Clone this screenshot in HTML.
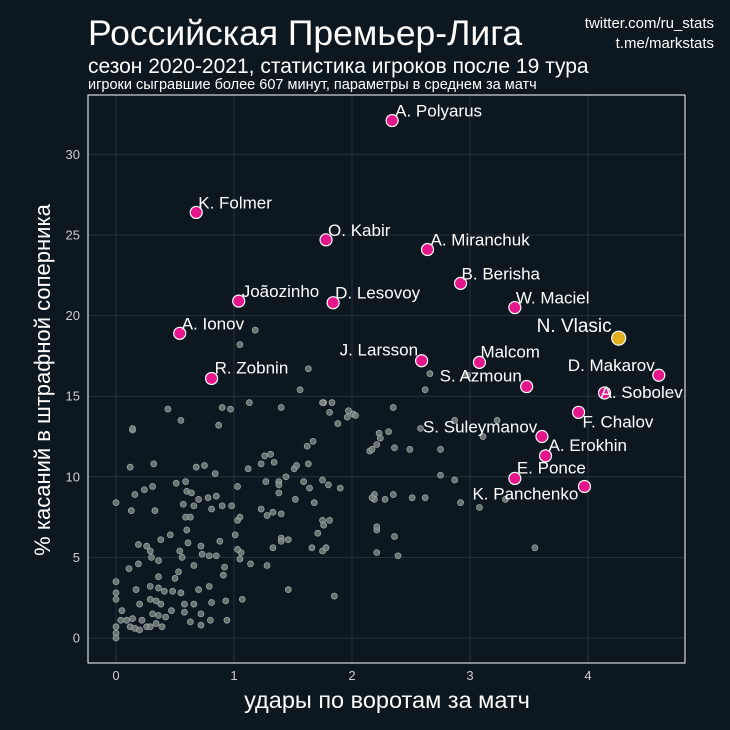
<!DOCTYPE html>
<html><head><meta charset="utf-8"><style>
body{margin:0;background:#0d1720;}
svg{display:block;font-family:"Liberation Sans","DejaVu Sans",sans-serif;}
</style></head><body>
<svg id="chart" width="730" height="730">
<rect x="0" y="0" width="730" height="730" fill="#0d1720"/>
<text x="88" y="45" fill="#fff" font-size="35.5">Российская Премьер-Лига</text>
<text x="88" y="73" fill="#fff" font-size="21">сезон 2020-2021, статистика игроков после 19 тура</text>
<text x="88" y="89" fill="#fff" font-size="14.5">игроки сыгравшие более 607 минут, параметры в среднем за матч</text>
<text x="714" y="28" fill="#fff" font-size="15" text-anchor="end">twitter.com/ru_stats</text>
<text x="714" y="48" fill="#fff" font-size="15" text-anchor="end">t.me/markstats</text>
<g id="grid"></g>
<g id="grey"></g>
<g id="hl"></g>
<rect x="88" y="95" width="597" height="568" fill="none" stroke="#fff" stroke-width="1"/>
<g id="axes"></g>
<text x="387" y="708" fill="#fff" font-size="23.5" text-anchor="middle">удары по воротам за матч</text>
<text transform="translate(50,380) rotate(-90)" fill="#fff" font-size="22" text-anchor="middle">% касаний в штрафной соперника</text>
</svg>
<script>
const xTicks=[0,1,2,3,4];
const yTicks=[0,5,10,15,20,25,30];
const greyX=[0,0,0,0,0,0,0,0.05,0.04,0.09,0.12,0.16,0.20,0.14,0.22,0.26,0.29,0.20,0.17,0.11,0.19,0.13,0.16,0.14,0.12,0.32,0.19,0.26,0.30,0.29,0.36,0.38,0.46,0.33,0.24,0.31,0.51,0.59,0.60,0.64,0.57,0.66,0.70,0.59,0.63,0.60,0.61,0.54,0.56,0.66,0.53,0.50,0.36,0.29,0.36,0.41,0.48,0.55,0.70,0.79,0.29,0.34,0.38,0.47,0.58,0.66,0.58,0.72,0.63,0.72,0.80,0.94,0.81,0.93,1.07,0.91,0.92,1.14,1.28,1.05,1.06,1.03,0.72,0.73,0.79,0.85,0.88,1.01,1.03,1.05,0.81,0.78,0.85,0.90,0.98,1.03,1.12,1.23,1.26,1.31,1.34,1.40,1.13,0.97,0.90,0.87,0.55,0.44,0.68,0.75,0.84,1.27,1.38,1.38,1.38,1.23,1.28,1.33,1.40,1.44,1.51,1.53,1.63,1.62,1.67,1.59,1.64,1.75,1.80,1.90,1.52,1.68,1.75,1.76,1.81,1.71,1.40,1.40,1.46,1.33,1.66,1.75,1.78,1.46,1.85,1.88,1.96,2.01,1.76,1.83,2.15,2.21,2.23,2.19,2.19,2.28,2.21,2.21,0.36,0.34,0.39,0.42,0.31,1.18,0.14,1.05,1.56,1.63,1.75,1.81,1.97,2.03,2.17,2.24,2.31,2.36,2.17,2.35,2.21,2.36,2.39,2.49,2.58,2.62,2.66,2.51,2.62,2.75,2.87,2.75,2.87,2.92,3.08,3.30,3.55,3.11,3.23,2.98,2.35];
const greyY=[3.5,2.8,2.4,0.7,0.3,0.0,8.4,1.7,1.1,1.1,0.7,0.6,0.5,1.2,1.1,0.7,0.7,2.1,3.0,4.3,4.6,7.9,8.9,12.9,10.6,10.8,5.8,5.7,5.0,5.4,4.8,6.1,6.4,7.9,9.2,9.4,9.6,9.7,9.1,9.0,8.3,8.2,8.6,7.5,7.5,6.7,5.9,5.4,5.0,4.5,4.1,3.7,3.8,3.2,3.1,2.9,2.9,2.8,3.0,3.2,2.4,2.3,2.1,1.7,2.1,2.1,1.6,1.5,1.0,0.8,1.1,1.1,2.2,2.3,2.4,3.9,4.4,4.6,4.5,4.9,5.3,5.5,5.7,5.2,5.1,5.1,6.0,6.4,7.3,7.5,8.0,8.7,8.8,8.2,8.2,9.4,10.5,10.8,11.3,11.4,10.9,14.3,14.6,14.2,14.3,13.2,13.5,14.2,10.6,10.7,10.2,9.7,9.7,9.5,9.0,8.0,7.6,7.8,7.7,10.0,10.5,10.7,10.8,11.9,12.2,9.7,9.3,9.8,9.5,9.3,8.6,8.4,7.3,7.0,7.3,6.5,6.2,6.0,6.1,5.6,5.6,5.4,5.6,3.0,2.6,13.3,13.7,13.9,14.6,14.6,11.6,12.0,12.7,8.9,8.6,8.6,6.7,5.3,1.4,0.9,0.7,1.3,1.5,19.1,13.0,18.2,15.4,16.7,14.6,14.0,14.1,13.8,11.7,12.4,12.8,11.8,8.7,8.9,6.9,6.3,5.1,11.7,13.0,15.4,16.4,8.7,8.7,11.7,13.5,10.1,9.8,8.4,8.1,8.6,5.6,12.5,13.5,16.3,14.3];
const hlNames=["A. Polyarus","K. Folmer","O. Kabir","A. Miranchuk","B. Berisha","Joãozinho","D. Lesovoy","W. Maciel","A. Ionov","N. Vlasic","J. Larsson","Malcom","R. Zobnin","D. Makarov","S. Azmoun","A. Sobolev","F. Chalov","S. Suleymanov","A. Erokhin","E. Ponce","K. Panchenko"];
const hlX=[2.34,0.68,1.78,2.64,2.92,1.04,1.84,3.38,0.54,4.26,2.59,3.08,0.81,4.60,3.48,4.14,3.92,3.61,3.64,3.38,3.97];
const hlY=[32.1,26.4,24.7,24.1,22.0,20.9,20.8,20.5,18.9,18.6,17.2,17.1,16.1,16.3,15.6,15.2,14.0,12.5,11.3,9.9,9.4];
const labelDX=[3,2,2,3,1,3,2,1,2,-82,-82,1,3,-91,-87,-4,4,-119,3,2,-112];
const labelDY=[-4,-4,-4,-4,-4,-4,-4,-4,-4,-6,-5,-5,-5,-4,-5,5,15,-4,-5,-5,13];

const NS="http://www.w3.org/2000/svg";
const xs=v=>116+v*118;
const ys=v=>638-v*16.12;
function mk(tag,attrs,parent){const e=document.createElementNS(NS,tag);for(const k in attrs)e.setAttribute(k,attrs[k]);parent.appendChild(e);return e;}
const grid=document.getElementById('grid'),axes=document.getElementById('axes');
xTicks.forEach(t=>{
  const l=mk('line',{x1:xs(t),x2:xs(t),y1:95,y2:663,stroke:'#26323b','stroke-width':1},grid);
  
  
  const tx=mk('text',{x:xs(t),y:680,fill:'#ccc','font-size':13,'text-anchor':'middle'},axes);
  tx.textContent=t;
  
  
});
yTicks.forEach(t=>{
  const l=mk('line',{x1:88,x2:685,y1:ys(t),y2:ys(t),stroke:'#26323b','stroke-width':1},grid);
  
  
  const tx=mk('text',{x:80,y:ys(t)+4.5,fill:'#ccc','font-size':13,'text-anchor':'end'},axes);
  tx.textContent=t;
  
  
});
const grey=document.getElementById('grey');
greyX.forEach((v,i)=>{
  const c=mk('circle',{cx:xs(v),cy:ys(greyY[i]),r:3,fill:'#77827f',stroke:'#a4acad','stroke-width':0.7,'fill-opacity':0.85},grey);
  
  
});
const hl=document.getElementById('hl');
hlNames.forEach((n,i)=>{
  const px=xs(hlX[i]),py=ys(hlY[i]);
  const gold=n==="N. Vlasic";
  const c=mk('circle',{cx:px,cy:py,r:gold?7:6,fill:gold?'#e0b020':'#e5168c',stroke:'#fff','stroke-width':1.2},hl);
  
  
  const t=mk('text',{x:px+labelDX[i],y:py+labelDY[i],fill:'#fff','font-size':gold?19:17},hl);
  t.textContent=n;
  
  
});
</script>
</body></html>
